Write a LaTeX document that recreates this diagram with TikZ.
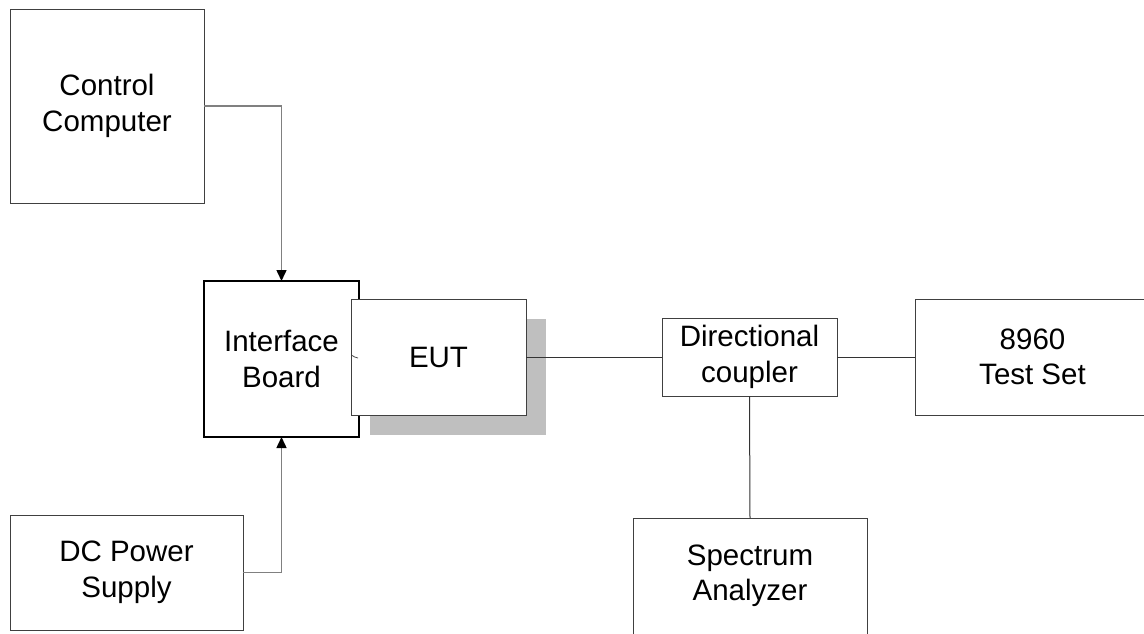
\documentclass[tikz,border=0pt]{standalone}
\usepackage{fontspec}
\setmainfont{Liberation Sans}
\usetikzlibrary{arrows.meta,positioning,calc}

\begin{document}
\begin{tikzpicture}[
		x=1pt,y=-1pt,
		block/.style={draw=black!75,line width=1pt,fill=white,align=center,inner sep=0pt,outer sep=0pt,font=\fontsize{29.5}{35.5}\selectfont},
		board/.style={block,draw=black,line width=2pt},
		wire/.style={draw=black!80,line width=1pt},
		feed/.style={draw=black!50,line width=1.5pt,-{Triangle[length=11pt,width=10pt,color=black]}}
	]
	\useasboundingbox (0,0) rectangle (1144,633);
	\clip (0,0) rectangle (1144,633);
	\node[block,minimum width=194pt,minimum height=194pt] (ctrl) at (107,106) {Control\\Computer};
	\node[block,minimum width=233pt,minimum height=115pt] (dc) at (126.5,572.5) {DC Power\\Supply};
	\node[board,minimum width=155pt,minimum height=156pt] (iface) at (281.5,359) {Interface\\Board};
	\fill[black!25] (370,319) rectangle (546,435);
	\node[block,minimum width=175pt,minimum height=116pt] (eut) at (438.5,357) {EUT};
	\node[block,minimum width=175pt,minimum height=78pt] (coupler) at (749.5,357) {Directional\\coupler};
	\node[block,minimum width=235pt,minimum height=116pt] (testset) at (1032.5,357) {8960\\Test Set};
	\node[block,minimum width=234pt,minimum height=116pt] (spec) at (750,576) {Spectrum\\Analyzer};

	% links
	\draw[feed] (ctrl.east) -| (iface.north);
	\draw[feed] (dc.east) -| (iface.south);
	\draw[wire] (eut.east) -- (coupler.west);
	\draw[wire] (coupler.east) -- (testset.west);
	\draw[wire] (coupler.south) -- (spec.north);
	\draw[black!70,line width=0.8pt] ($(eut.west)+(1,-1.5)$) to[out=-20,in=180] ++(6,2.5);
\end{tikzpicture}
\end{document}
